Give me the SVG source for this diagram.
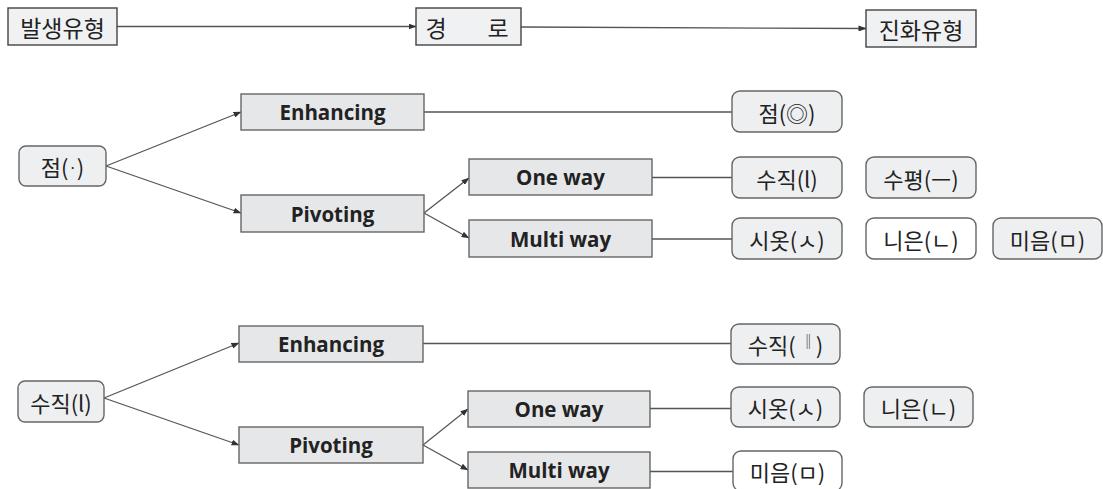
<svg xmlns="http://www.w3.org/2000/svg" width="1103" height="489" viewBox="0 0 1103 489">
<style>
.bg{fill:#ffffff}
.top{fill:#f0f1f3;stroke:#444;stroke-width:1.4}
.sq{fill:#e6e7e9;stroke:#666;stroke-width:1.4}
.rd{fill:#eeeff1;stroke:#666;stroke-width:1.4}
.wh{fill:#ffffff;stroke:#666;stroke-width:1.4}
.kr{font-family:"Noto Sans CJK KR","Noto Sans",sans-serif;font-size:22px;fill:#222;text-anchor:middle;dominant-baseline:central}
.kt{font-family:"Noto Sans CJK KR","Noto Sans",sans-serif;font-size:23px;fill:#222;text-anchor:middle;dominant-baseline:central}
.en{font-family:"Open Sans","Noto Sans",sans-serif;font-weight:bold;font-size:20.5px;fill:#222;text-anchor:middle;dominant-baseline:central}
.sm{font-size:15px}
.ln{stroke:#555;stroke-width:1.3;fill:none}
.ar{marker-end:url(#ah)}
</style>
<defs>
<marker id="ah" markerWidth="8" markerHeight="6" refX="7.5" refY="3" orient="auto" markerUnits="userSpaceOnUse">
<path d="M0,0 L8,3 L0,6 Z" fill="#333"/>
</marker>
</defs>
<rect class="bg" x="0" y="0" width="1103" height="489"/>
<g id="connectors">
<line class="ln ar" x1="117" y1="26.5" x2="416" y2="26.5"/>
<line class="ln ar" x1="521" y1="27" x2="866" y2="28.5"/>
<line class="ln ar" x1="106" y1="166" x2="241" y2="112"/>
<line class="ln ar" x1="106" y1="166" x2="241" y2="213"/>
<line class="ln" x1="424" y1="112" x2="732" y2="112"/>
<line class="ln ar" x1="424" y1="213" x2="469" y2="178"/>
<line class="ln ar" x1="424" y1="213" x2="469" y2="238"/>
<line class="ln" x1="652" y1="177.5" x2="732" y2="177.5"/>
<line class="ln" x1="652" y1="239" x2="732" y2="239"/>
<line class="ln ar" x1="104" y1="398" x2="239" y2="343"/>
<line class="ln ar" x1="104" y1="398" x2="239" y2="445"/>
<line class="ln" x1="423" y1="343.5" x2="731" y2="343.5"/>
<line class="ln ar" x1="423" y1="445" x2="468" y2="409"/>
<line class="ln ar" x1="423" y1="445" x2="468" y2="470"/>
<line class="ln" x1="650" y1="408.5" x2="731" y2="408.5"/>
<line class="ln" x1="650" y1="471.5" x2="733" y2="471.5"/>
</g>
<g id="n-balsaeng"><rect class="top" x="8" y="8" width="109" height="37"/><text class="kt" x="62.5" y="26.5">발생유형</text></g>
<g id="n-gyeongro"><rect class="top" x="416" y="8" width="105" height="37"/><text class="kt" y="26.5"><tspan x="436">경</tspan><tspan x="498">로</tspan></text></g>
<g id="n-jinhwa"><rect class="top" x="866" y="10" width="110" height="37"/><text class="kt" x="921" y="28.5">진화유형</text></g>

<g id="n-jeom"><rect class="rd" x="19" y="146" width="87" height="40" rx="7"/><text class="kr" x="62.5" y="166">점(<tspan class="sm">·</tspan>)</text></g>
<g id="n-enh1"><rect class="sq" x="241" y="94" width="183" height="36"/><text class="en" x="332.5" y="112">Enhancing</text></g>
<g id="n-piv1"><rect class="sq" x="241" y="195" width="183" height="37"/><text class="en" x="332.5" y="213.5">Pivoting</text></g>
<g id="n-one1"><rect class="sq" x="469" y="159" width="183" height="36"/><text class="en" x="560.5" y="177">One way</text></g>
<g id="n-multi1"><rect class="sq" x="469" y="220" width="183" height="37"/><text class="en" x="560.5" y="238.5">Multi way</text></g>
<g id="n-jeom2"><rect class="rd" x="732" y="91" width="110" height="41" rx="8"/><text class="kr" x="787" y="111.5">점(◎)</text></g>
<g id="n-sujik1"><rect class="rd" x="732" y="157" width="110" height="41" rx="8"/><text class="kr" x="787" y="177.5">수직(l)</text></g>
<g id="n-supyeong"><rect class="rd" x="866" y="157" width="110" height="41" rx="8"/><text class="kr" x="921" y="177.5">수평(ㅡ)</text></g>
<g id="n-siot1"><rect class="rd" x="732" y="218" width="110" height="41" rx="8"/><text class="kr" x="787" y="238.5">시옷(ㅅ)</text></g>
<g id="n-nieun1"><rect class="wh" x="866" y="218" width="110" height="41" rx="8"/><text class="kr" x="921" y="238.5">니은(ㄴ)</text></g>
<g id="n-mieum1"><rect class="rd" x="993" y="218" width="109" height="41" rx="8"/><text class="kr" x="1047.5" y="238.5">미음(ㅁ)</text></g>

<g id="n-sujik0"><rect class="rd" x="18" y="381" width="86" height="41" rx="7"/><text class="kr" x="61" y="401.5">수직(l)</text></g>
<g id="n-enh2"><rect class="sq" x="239" y="326" width="184" height="36"/><text class="en" x="331" y="344">Enhancing</text></g>
<g id="n-piv2"><rect class="sq" x="239" y="427" width="184" height="36"/><text class="en" x="331" y="445">Pivoting</text></g>
<g id="n-one2"><rect class="sq" x="468" y="391" width="182" height="36"/><text class="en" x="559" y="409">One way</text></g>
<g id="n-multi2"><rect class="sq" x="468" y="452" width="182" height="36"/><text class="en" x="559" y="470">Multi way</text></g>
<g id="n-sujik2"><rect class="rd" x="731" y="324" width="109" height="40" rx="8"/><text class="kr" x="785.5" y="344">수직( <tspan class="sm" dy="-4">‖</tspan><tspan dy="4">)</tspan></text></g>
<g id="n-siot2"><rect class="rd" x="731" y="387" width="109" height="40" rx="8"/><text class="kr" x="785.5" y="407">시옷(ㅅ)</text></g>
<g id="n-nieun2"><rect class="rd" x="864" y="387" width="109" height="40" rx="8"/><text class="kr" x="918.5" y="407">니은(ㄴ)</text></g>
<g id="n-mieum2"><rect class="wh" x="733" y="451" width="109" height="40" rx="8"/><text class="kr" x="787.5" y="471">미음(ㅁ)</text></g>
</svg>
